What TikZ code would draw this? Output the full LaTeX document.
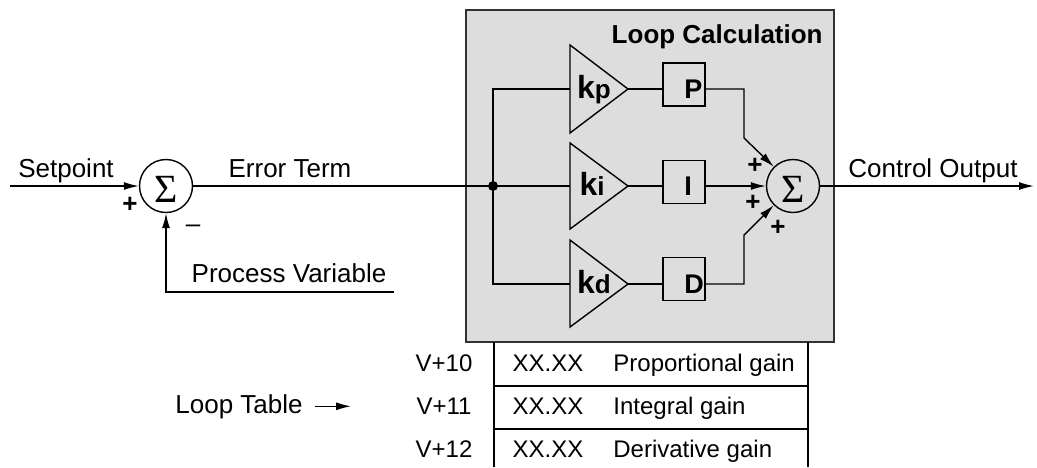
\documentclass[tikz,border=0pt]{standalone}
\usepackage{fontspec}
\setmainfont{Liberation Sans}
\newfontfamily\sigmafont{Liberation Serif}
\usetikzlibrary{arrows.meta, calc}
\definecolor{panel}{RGB}{221,221,221}
\definecolor{edge}{RGB}{50,50,50}

\begin{document}
\begin{tikzpicture}[x=0.5pt, y=-0.5pt,
  wire/.style={line width=0.7pt},
  arr/.style={wire, -{Latex[length=7.5pt,width=4pt]}},
  txt/.style={font=\fontsize{13}{15}\selectfont, inner sep=0pt},
  tbl/.style={font=\fontsize{12}{14}\selectfont, inner sep=0pt},
  sumnode/.style={draw, circle, wire, minimum size=26.5pt, inner sep=0pt,
    text height=16pt, text depth=0pt, font=\sigmafont\fontsize{20}{20}\selectfont},
  termbox/.style={draw, wire, minimum width=21pt, minimum height=21.5pt, inner sep=0pt},
  termlbl/.style={font=\bfseries\fontsize{13.5}{15}\selectfont, inner sep=0pt, anchor=base west},
  gainlbl/.style={font=\bfseries\fontsize{16}{18}\selectfont, inner sep=0pt, anchor=base},
  dot/.style={circle, fill, inner sep=0pt, minimum size=5pt}]
  \useasboundingbox (0,0) rectangle (1037,467);

  % Loop calculation panel
  \filldraw[fill=panel, draw=edge, line width=0.8pt] (466,10) rectangle (834,342);
  \node[txt, font=\bfseries\fontsize{13}{15}\selectfont, anchor=base east] (title) at (823,43) {Loop Calculation};

  % Error summing junction
  \node[sumnode] (sumerr) at (166,186) {Σ};
  \coordinate (spin) at (10,186);
  \coordinate (pvend) at (394,292);
  \draw[arr] (spin) -- (sumerr.west);
  \draw[arr] (pvend) -| (sumerr.south);
  \node[txt, anchor=base] (setpt) at (66,177) {Setpoint};
  \node[txt, anchor=base] (errterm) at (290,177) {Error Term};
  \node[txt, anchor=base] (procvar) at (289,282) {Process Variable};
  \node[txt] (plus1) at (130,205) {\textbf{+}};
  \node[txt] (minus1) at (193,229) {–};

  % Gain triangles
  \draw[wire] (570,45) -- (628,89) -- (570,133) -- cycle;
  \coordinate (kpin) at (570,89);
  \coordinate (kpout) at (628,89);
  \node[gainlbl] (kp) at (594,98) {k{\fontsize{13}{13}\selectfont p}};
  \draw[wire] (570,143) -- (628,186) -- (570,229) -- cycle;
  \coordinate (kiin) at (570,186);
  \coordinate (kiout) at (628,186);
  \node[gainlbl] (ki) at (592,195) {k{\fontsize{13}{13}\selectfont i}};
  \draw[wire] (570,240) -- (628,284) -- (570,327) -- cycle;
  \coordinate (kdin) at (570,284);
  \coordinate (kdout) at (628,284);
  \node[gainlbl] (kd) at (594,293) {k{\fontsize{13}{13}\selectfont d}};

  % P, I, D terms
  \node[termbox] (P) at (684,84.5) {};
  \node[termlbl] (Plbl) at (684,98) {P};
  \node[termbox] (I) at (684,182) {};
  \node[termlbl] (Ilbl) at (684,195) {I};
  \node[termbox] (D) at (684,279) {};
  \node[termlbl] (Dlbl) at (684,293) {D};

  % Split to the three gains
  \node[dot] (split) at (493,186) {};
  \draw[wire] (sumerr.east) -- (kiin);
  \draw[wire] (split) |- (kpin);
  \draw[wire] (split) |- (kdin);
  \draw[wire] (kpout) -- (P.west |- kpout);
  \draw[wire] (kiout) -- (I.west |- kiout);
  \draw[wire] (kdout) -- (D.west |- kdout);

  % Output summing junction
  \node[sumnode] (sumout) at (793,186) {Σ};
  \coordinate (pbend) at (744,138);
  \coordinate (dbend) at (744,235);
  \coordinate (outend) at (1034,186);
  \draw[arr] (P.east |- kpout) -| (pbend) -- (sumout.135);
  \draw[arr] (I.east |- kiout) -- (sumout.west);
  \draw[arr] (D.east |- kdout) -| (dbend) -- (sumout.225);
  \draw[arr] (sumout.east) -- (outend);
  \node[txt] (plusp) at (755,166) {\textbf{+}};
  \node[txt] (plusi) at (753,203) {\textbf{+}};
  \node[txt] (plusd) at (778,228) {\textbf{+}};
  \node[txt, anchor=base] (ctrlout) at (933,177) {Control Output};

  % Loop table
  \draw[wire] (494,342) -- (494,467);
  \draw[wire] (808,342) -- (808,467);
  \draw[wire] (494,386) -- (808,386);
  \draw[wire] (494,429) -- (808,429);
  \node[tbl, anchor=base] (addr0) at (444,371) {V+10};
  \node[tbl, anchor=base] (addr1) at (444,414) {V+11};
  \node[tbl, anchor=base] (addr2) at (444,457) {V+12};
  \node[tbl, anchor=base] (val0) at (548,371) {XX.XX};
  \node[tbl, anchor=base] (val1) at (548,414) {XX.XX};
  \node[tbl, anchor=base] (val2) at (548,457) {XX.XX};
  \node[tbl, anchor=base west] (desc0) at (613,371) {Proportional gain};
  \node[tbl, anchor=base west] (desc1) at (613,414) {Integral gain};
  \node[tbl, anchor=base west] (desc2) at (613,457) {Derivative gain};
  \node[txt, anchor=base] (looptbl) at (239,413) {Loop Table};
  \draw[arr] ([xshift=6pt]looptbl.east) -- ++(18pt,0);
\end{tikzpicture}
\end{document}
